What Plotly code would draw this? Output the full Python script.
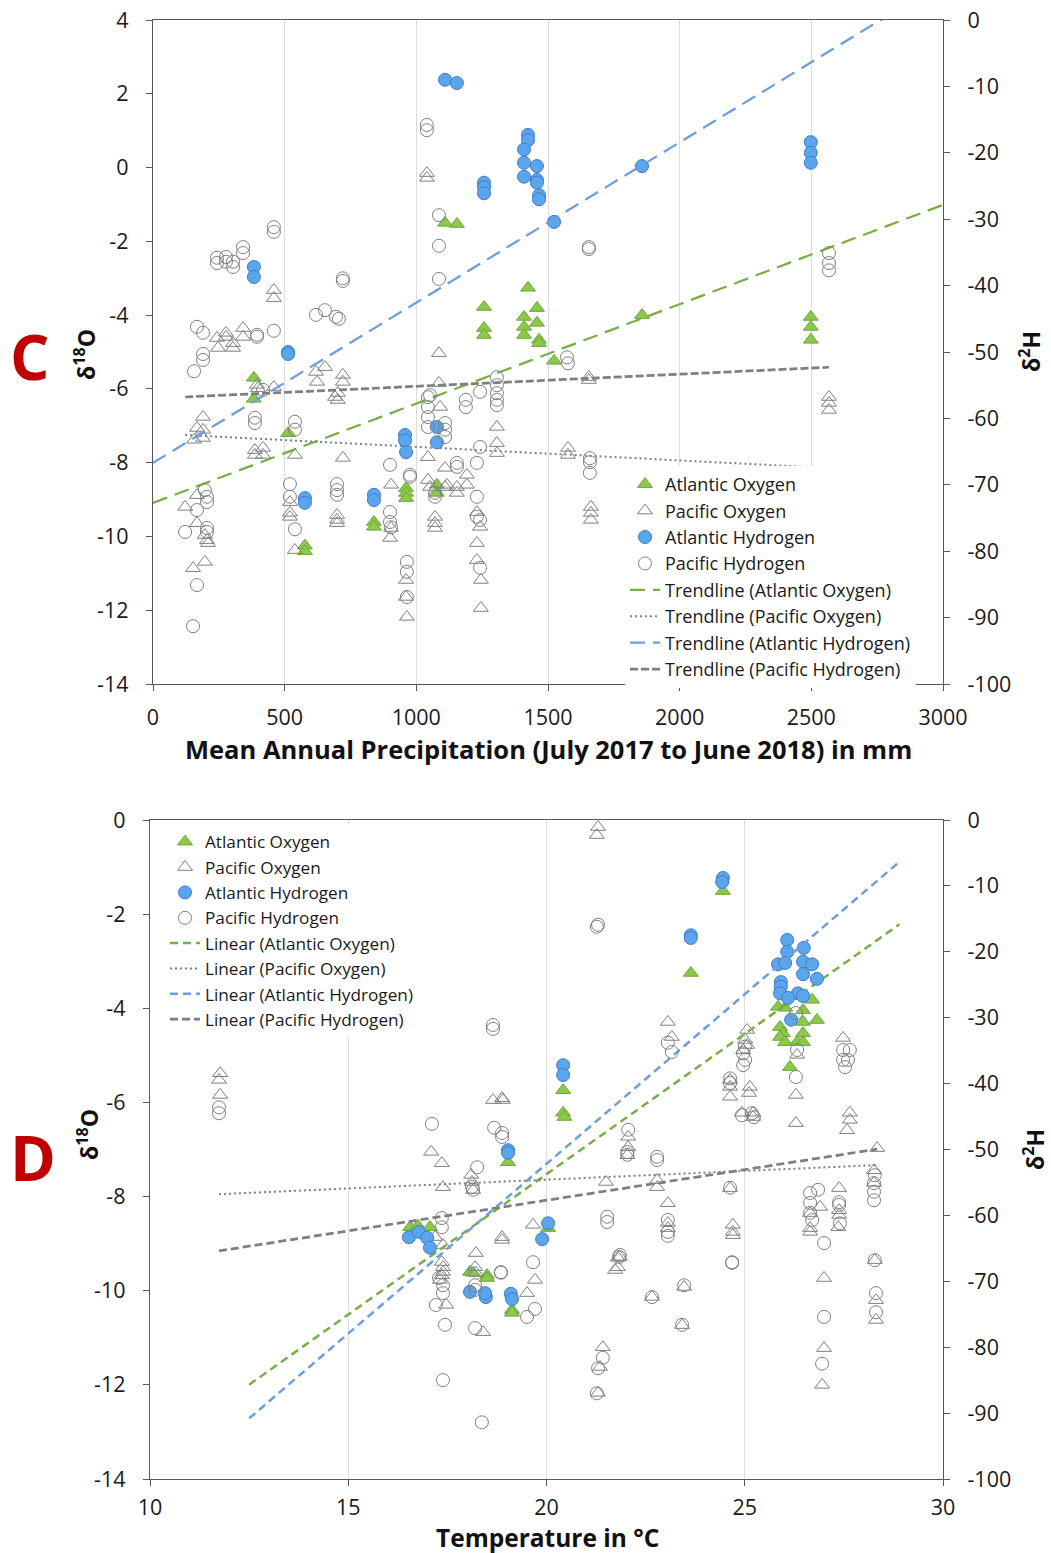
import plotly.graph_objects as go

# ---------------- Panel C: precipitation ----------------
c_atl_o_x = [383, 383, 513, 577, 577, 839, 839, 961, 961, 961, 1078, 1078, 1109, 1154, 1257, 1257, 1257,
             1424, 1409, 1409, 1409, 1458, 1458, 1466, 1466, 1523, 1857, 2498, 2498, 2498]
c_atl_o_y = [-5.70, -6.27, -7.20, -10.25, -10.40, -9.61, -9.74, -8.69, -8.82, -8.96, -8.60, -8.82, -1.50, -1.53,
             -3.78, -4.35, -4.54, -3.26, -4.05, -4.32, -4.54, -3.81, -4.21, -4.67, -4.76, -5.24, -4.00, -4.05,
             -4.32, -4.67]

c_pac_o_x = [459, 459, 243, 277, 277, 304, 304, 342, 342, 247, 395, 399, 459, 619, 653, 623, 721, 721, 702, 691,
             702, 190, 167, 190, 156, 190, 387, 418, 418, 387, 539, 721, 1086, 1086, 1090, 1044, 1044, 1052, 1109,
             1109, 904, 904, 900, 122, 167, 167, 197, 209, 205, 152, 197, 520, 520, 520, 539, 699, 699, 699, 961,
             961, 964, 1071, 1071, 1071, 1154, 1154, 1192, 1192, 1116, 1230, 1242, 1230, 1230, 1245, 1245, 1306,
             1306, 1306, 1576, 1576, 1655, 1655, 1663, 1663, 1663, 2567, 2567, 2567, 1040, 1040]
c_pac_o_y = [-3.32, -3.54, -4.62, -4.48, -4.59, -4.76, -4.89, -4.35, -4.59, -4.89, -5.89, -5.98, -5.95, -5.54,
             -5.41, -5.81, -5.62, -5.81, -6.11, -6.22, -6.30, -6.76, -7.06, -7.11, -7.38, -7.33, -7.66, -7.60,
             -7.79, -7.79, -7.79, -7.87, -5.03, -5.84, -6.49, -7.85, -8.47, -8.66, -8.14, -8.66, -8.60, -9.77,
             -10.04, -9.20, -8.88, -9.64, -9.96, -10.18, -10.10, -10.86, -10.69, -9.07, -9.36, -9.47, -10.37,
             -9.42, -9.55, -9.64, -11.18, -11.64, -12.18, -9.47, -9.64, -9.77, -8.66, -8.82, -8.33, -8.60, -8.60,
             -9.34, -9.74, -10.18, -10.64, -11.18, -11.94, -7.03, -7.47, -7.74, -7.60, -7.79, -5.68, -5.76, -9.20,
             -9.36, -9.55, -6.22, -6.38, -6.57, -0.15, -0.28]

c_atl_h_x = [383, 383, 513, 513, 957, 957, 961, 1078, 1078, 577, 577, 839, 839, 1109, 1154, 1257, 1257, 1257,
             1424, 1424, 1409, 1409, 1458, 1409, 1458, 1458, 1466, 1466, 1523, 1857, 2498, 2498, 2498]
c_atl_h_y = [-37.2, -38.7, -50.0, -50.3, -62.5, -63.3, -65.1, -61.3, -63.6, -72.0, -72.7, -71.5, -72.3, -9.0,
             -9.5, -24.5, -25.2, -26.1, -17.3, -18.1, -19.5, -21.5, -22.0, -23.6, -24.1, -24.5, -26.4, -27.0,
             -30.4, -22.0, -18.4, -20.0, -21.5]

c_pac_h_x = [459, 459, 342, 342, 243, 243, 277, 277, 304, 304, 721, 721, 619, 653, 695, 706, 167, 190, 190, 190,
             156, 395, 395, 459, 418, 387, 387, 539, 539, 1086, 1086, 1086, 1044, 1044, 1044, 1044, 1040, 1040,
             1655, 1655, 1572, 1576, 1109, 1109, 1109, 1052, 1188, 1188, 1242, 1306, 1306, 1306, 1306, 1306,
             1242, 1154, 1154, 1230, 976, 976, 900, 1071, 1071, 1230, 1230, 1242, 900, 900, 904, 964, 964, 964,
             1242, 1659, 1659, 1659, 122, 167, 197, 205, 205, 205, 205, 167, 152, 520, 520, 539, 699, 699, 699,
             2567, 2567, 2567]
c_pac_h_y = [-31.2, -31.9, -34.2, -35.1, -35.8, -36.6, -35.7, -36.4, -36.4, -37.2, -38.9, -39.3, -44.4, -43.7,
             -44.7, -45.0, -46.2, -47.1, -50.3, -51.2, -52.9, -47.4, -47.7, -46.8, -55.7, -59.9, -60.7, -60.5,
             -61.7, -29.4, -34.0, -39.0, -56.8, -58.3, -59.8, -61.3, -15.8, -16.6, -34.2, -34.5, -50.8, -51.7,
             -60.7, -61.7, -62.8, -56.5, -57.2, -58.3, -56.0, -53.8, -55.0, -56.2, -57.2, -58.0, -64.3, -66.7,
             -67.3, -66.7, -68.5, -68.8, -67.0, -71.2, -71.8, -71.8, -74.8, -75.3, -74.1, -75.6, -76.4, -81.6,
             -83.1, -86.9, -82.5, -66.0, -66.6, -68.2, -77.1, -73.8, -70.8, -71.8, -72.6, -76.5, -77.1, -85.1,
             -91.3, -69.9, -71.8, -76.7, -69.9, -70.8, -71.5, -35.1, -36.6, -37.7]

# linear trend coefficients (slope, intercept) and forecast span of the Atlantic fits
c_trend_atl_o = (0.002693, -9.09)
c_trend_pac_o = (-0.000367, -7.205)
c_trend_atl_h = (0.02414, -66.7)
c_trend_pac_h = (0.001832, -57.0)
c_atl_span = (0, 3000)

# ---------------- Panel D: temperature ----------------
d_atl_o_x = [16.56, 16.76, 17.06, 18.07, 18.15, 18.50, 18.50, 19.03, 19.13, 19.13, 20.42, 20.42, 20.45, 20.04,
             23.64, 24.45, 25.84, 26.02, 26.70, 26.47, 26.82, 26.47, 25.89, 25.96, 26.47, 25.89, 26.02, 26.32,
             26.47, 26.14]
d_atl_o_y = [-8.65, -8.62, -8.65, -9.60, -9.62, -9.67, -9.73, -7.27, -10.41, -10.47, -5.74, -6.22, -6.31, -8.67,
             -3.25, -1.51, -3.97, -3.99, -3.82, -4.04, -4.25, -4.29, -4.40, -4.53, -4.53, -4.61, -4.72, -4.72,
             -4.72, -5.25]

d_pac_o_x = [11.77, 11.74, 11.77, 18.65, 18.88, 18.90, 17.09, 17.36, 17.39, 18.10, 18.12, 18.15, 17.19, 17.39,
             17.36, 17.39, 17.39, 17.36, 17.31, 17.47, 18.88, 18.88, 18.22, 18.20, 18.22, 18.40, 19.66, 19.71,
             19.51, 21.42, 21.30, 21.35, 21.50, 21.80, 21.80, 22.06, 22.06, 22.04, 21.30, 21.27, 23.06, 23.16,
             25.06, 25.01, 25.06, 24.96, 24.63, 24.63, 24.63, 25.13, 25.11, 24.93, 25.21, 25.21, 27.48, 26.32,
             26.29, 26.29, 27.65, 27.65, 27.58, 28.34, 22.79, 22.79, 23.06, 23.06, 23.06, 24.63, 24.70, 24.70,
             24.70, 21.85, 21.73, 22.66, 23.47, 23.42, 26.65, 26.65, 26.65, 26.90, 27.38, 27.38, 27.38, 27.36,
             27.00, 27.00, 26.95, 28.26, 28.26, 28.28, 28.31, 28.31]
d_pac_o_y = [-5.38, -5.52, -5.84, -5.95, -5.91, -5.95, -7.05, -7.29, -7.80, -7.54, -7.69, -7.86, -8.86, -9.03,
             -9.39, -9.50, -9.60, -9.67, -9.77, -10.30, -8.86, -8.92, -9.20, -9.50, -9.62, -10.88, -8.60, -9.77,
             -10.05, -11.20, -12.17, -11.62, -7.69, -9.30, -9.50, -6.73, -6.95, -7.12, -0.15, -0.32, -4.29, -4.61,
             -4.46, -4.67, -4.78, -4.89, -5.52, -5.67, -5.88, -5.67, -5.80, -6.22, -6.22, -6.31, -4.63, -4.99,
             -5.84, -6.44, -6.22, -6.37, -6.59, -6.97, -7.65, -7.80, -8.14, -8.56, -8.67, -7.82, -8.60, -8.75,
             -8.82, -9.28, -9.56, -10.13, -9.92, -10.73, -8.35, -8.67, -8.75, -8.22, -7.82, -8.29, -8.39, -8.65,
             -9.73, -11.22, -12.00, -7.44, -7.71, -9.35, -10.20, -10.62]

d_atl_h_x = [16.53, 16.78, 16.99, 17.06, 18.07, 18.47, 18.45, 19.03, 19.03, 19.10, 19.13, 20.42, 20.42, 20.04,
             19.89, 23.64, 23.64, 24.45, 24.43, 26.07, 26.49, 26.07, 25.84, 26.02, 26.47, 26.70, 26.47, 26.82,
             25.91, 25.91, 25.89, 26.34, 26.47, 26.09, 26.17]
d_atl_h_y = [-63.3, -62.5, -63.4, -64.9, -71.6, -72.4, -71.8, -50.1, -50.5, -71.9, -72.7, -37.2, -38.7, -61.2,
             -63.6, -17.5, -17.9, -8.8, -9.4, -18.2, -19.4, -20.0, -21.9, -21.7, -21.5, -21.9, -23.4, -24.1,
             -24.6, -25.3, -26.3, -26.3, -26.7, -27.0, -30.3]

d_pac_h_x = [11.74, 11.74, 18.65, 18.65, 17.11, 18.68, 18.88, 18.88, 18.25, 18.12, 18.15, 17.36, 17.36, 17.29,
             17.39, 17.39, 17.21, 17.44, 17.39, 18.37, 18.20, 18.20, 18.20, 18.85, 18.85, 19.66, 19.71, 19.51,
             21.53, 21.53, 21.83, 22.06, 22.04, 22.04, 21.42, 21.30, 21.27, 21.27, 21.30, 23.06, 23.16, 25.00,
             24.96, 25.01, 24.96, 24.63, 24.63, 25.18, 25.23, 24.93, 27.48, 27.65, 27.48, 27.60, 27.53, 26.32,
             26.29, 26.29, 22.79, 22.79, 24.63, 24.68, 24.68, 23.06, 23.06, 23.06, 21.85, 22.66, 23.47, 23.42,
             26.65, 26.85, 26.65, 26.65, 26.70, 27.38, 27.38, 27.40, 27.00, 27.00, 26.95, 28.28, 28.26, 28.26,
             28.26, 28.28, 28.31, 28.31]
d_pac_h_y = [-43.6, -44.5, -31.1, -31.7, -46.1, -46.7, -47.5, -48.1, -52.7, -55.7, -56.1, -60.4, -61.8, -69.5,
             -70.6, -71.8, -73.6, -76.6, -85.0, -91.4, -70.6, -71.3, -77.1, -68.6, -68.7, -67.1, -74.2, -75.4,
             -60.2, -61.0, -66.3, -47.0, -50.4, -50.8, -81.6, -83.2, -87.0, -16.2, -15.9, -33.8, -35.2, -34.4,
             -35.4, -36.4, -37.2, -39.2, -39.9, -44.5, -45.1, -44.8, -34.9, -34.9, -36.4, -36.4, -37.5, -34.9,
             -39.0, -29.3, -51.1, -51.6, -55.8, -67.1, -67.2, -60.7, -62.5, -63.1, -66.0, -72.4, -70.6, -76.6,
             -56.6, -56.1, -58.1, -59.6, -60.7, -58.0, -58.4, -61.2, -64.2, -75.4, -82.5, -53.9, -55.1, -56.4,
             -57.7, -66.8, -71.8, -74.7]

d_trend_atl_o = (0.5963, -19.45)
d_trend_pac_o = (0.0373, -8.387)
d_trend_atl_h = (5.15, -155.18)
d_trend_pac_h = (0.93, -76.3)
d_atl_span = (12.5, 28.9)

# ---------------- styling ----------------
GREEN_FILL, GREEN_EDGE, GREEN_LINE = "#8DC84B", "#6BA63A", "#78AF44"
BLUE_FILL, BLUE_EDGE, BLUE_LINE = "#5AA5EC", "#3F7CCB", "#6C9EDD"
GRAY = "#7F7F7F"
FONT = "Open Sans"
W, H = 1051, 1553


def markers(name, x, y, kind, xa, ya, legend):
    if kind == "atl_o":
        m = dict(symbol="triangle-up", size=13, color=GREEN_FILL, line=dict(color=GREEN_EDGE, width=1))
    elif kind == "atl_h":
        m = dict(symbol="circle", size=13, color=BLUE_FILL, line=dict(color=BLUE_EDGE, width=1))
    elif kind == "pac_o":
        m = dict(symbol="triangle-up-open", size=13, color=GRAY, line=dict(color=GRAY, width=1))
    else:
        m = dict(symbol="circle-open", size=13, color=GRAY, line=dict(color=GRAY, width=1))
    return go.Scatter(x=x, y=y, mode="markers", name=name, marker=m, xaxis=xa, yaxis=ya,
                      legend=legend, cliponaxis=False)


def trend(name, coef, span, color, dash, width, xa, ya, legend):
    slope, icpt = coef
    xs = [span[0], span[1]]
    ys = [icpt + slope * v for v in xs]
    return go.Scatter(x=xs, y=ys, mode="lines", name=name, xaxis=xa, yaxis=ya, legend=legend,
                      line=dict(color=color, dash=dash, width=width))


def tick_set(lo, hi, step):
    # plain hyphen-minus labels
    vals = list(range(lo, hi + 1, step))
    return dict(tickvals=vals, ticktext=[str(v) for v in vals])


fig = go.Figure()

# Panel C traces
fig.add_trace(markers("Atlantic Oxygen", c_atl_o_x, c_atl_o_y, "atl_o", "x", "y", "legend"))
fig.add_trace(markers("Pacific Oxygen", c_pac_o_x, c_pac_o_y, "pac_o", "x", "y", "legend"))
fig.add_trace(markers("Atlantic Hydrogen", c_atl_h_x, c_atl_h_y, "atl_h", "x", "y2", "legend"))
fig.add_trace(markers("Pacific Hydrogen", c_pac_h_x, c_pac_h_y, "pac_h", "x", "y2", "legend"))
c_pac_span = (min(c_pac_o_x + c_pac_h_x), max(c_pac_o_x + c_pac_h_x))
fig.add_trace(trend("Trendline (Atlantic Oxygen)", c_trend_atl_o, c_atl_span, GREEN_LINE, "15px,8px", 2.25,
                    "x", "y", "legend"))
fig.add_trace(trend("Trendline (Pacific Oxygen)", c_trend_pac_o, c_pac_span, GRAY, "2px,3px", 2,
                    "x", "y", "legend"))
fig.add_trace(trend("Trendline (Atlantic Hydrogen)", c_trend_atl_h, c_atl_span, BLUE_LINE, "15px,8px", 2.25,
                    "x", "y2", "legend"))
fig.add_trace(trend("Trendline (Pacific Hydrogen)", c_trend_pac_h, c_pac_span, GRAY, "8px,3px", 2.75,
                    "x", "y2", "legend"))

# Panel D traces
fig.add_trace(markers("Atlantic Oxygen", d_atl_o_x, d_atl_o_y, "atl_o", "x2", "y3", "legend2"))
fig.add_trace(markers("Pacific Oxygen", d_pac_o_x, d_pac_o_y, "pac_o", "x2", "y3", "legend2"))
fig.add_trace(markers("Atlantic Hydrogen", d_atl_h_x, d_atl_h_y, "atl_h", "x2", "y4", "legend2"))
fig.add_trace(markers("Pacific Hydrogen", d_pac_h_x, d_pac_h_y, "pac_h", "x2", "y4", "legend2"))
d_pac_span = (min(d_pac_o_x + d_pac_h_x), max(d_pac_o_x + d_pac_h_x))
fig.add_trace(trend("Linear (Atlantic Oxygen)", d_trend_atl_o, d_atl_span, GREEN_LINE, "8px,5px", 2.5,
                    "x2", "y3", "legend2"))
fig.add_trace(trend("Linear (Pacific Oxygen)", d_trend_pac_o, d_pac_span, GRAY, "2px,3px", 2,
                    "x2", "y3", "legend2"))
fig.add_trace(trend("Linear (Atlantic Hydrogen)", d_trend_atl_h, d_atl_span, BLUE_LINE, "8px,5px", 2.5,
                    "x2", "y4", "legend2"))
fig.add_trace(trend("Linear (Pacific Hydrogen)", d_trend_pac_h, d_pac_span, GRAY, "8px,4px", 2.75,
                    "x2", "y4", "legend2"))

tick_font = dict(family=FONT, size=21.5, color="#1a1a1a")
axis_common = dict(showline=True, linecolor="#595959", linewidth=1.25, ticks="outside", ticklen=6,
                   tickcolor="#595959", tickfont=tick_font, zeroline=False, automargin=False)


def px_x(p):
    return p / W


def px_y(p):
    return 1 - p / H


fig.update_layout(
    template="none",
    width=W, height=H, autosize=False,
    margin=dict(l=0, r=0, t=0, b=0),
    paper_bgcolor="white", plot_bgcolor="white",
    font=dict(family=FONT, color="#1a1a1a"),
    xaxis=dict(domain=[px_x(153), px_x(943)], range=[0, 3000], anchor="y", ticklabelstandoff=8,
               showgrid=True, gridcolor="#DCDCDC", gridwidth=1, mirror=True,
               **tick_set(0, 3000, 500), **axis_common),
    yaxis=dict(domain=[px_y(684), px_y(20)], range=[-14, 4], anchor="x", ticklabelstandoff=13,
               showgrid=False, **tick_set(-14, 4, 2), **axis_common),
    yaxis2=dict(range=[-100, 0], overlaying="y", side="right", anchor="x", ticklabelstandoff=13,
                showgrid=False, **tick_set(-100, 0, 10), **axis_common),
    xaxis2=dict(domain=[px_x(150), px_x(943)], range=[10, 30], anchor="y3", ticklabelstandoff=3,
                showgrid=True, gridcolor="#DCDCDC", gridwidth=1, mirror=True,
                **tick_set(10, 30, 5), **axis_common),
    yaxis3=dict(domain=[px_y(1479), px_y(820)], range=[-14, 0], anchor="x2", ticklabelstandoff=13,
                showgrid=False, **tick_set(-14, 0, 2), **axis_common),
    yaxis4=dict(range=[-100, 0], overlaying="y3", side="right", anchor="x2", ticklabelstandoff=13,
                showgrid=False, **tick_set(-100, 0, 10), **axis_common),
    legend=dict(x=px_x(625), y=px_y(466), xanchor="left", yanchor="top", bgcolor="white",
                font=dict(family=FONT, size=18, color="#1a1a1a"), itemwidth=30, tracegroupgap=0),
    legend2=dict(x=px_x(165), y=px_y(824), xanchor="left", yanchor="top", bgcolor="white",
                 font=dict(family=FONT, size=17.2, color="#1a1a1a"), itemwidth=30, tracegroupgap=0),
    showlegend=True,
)

title_font = dict(family=FONT, size=25.5, color="#111111")
ytitle_font = dict(family=FONT, size=23, color="#111111")
notes = [
    dict(text="<b>Mean Annual Precipitation (July 2017 to June 2018) in mm</b>", x=px_x(548), y=px_y(749),
         font=title_font, textangle=0),
    dict(text="<b>Temperature in °C</b>", x=px_x(547), y=px_y(1537), font=dict(family=FONT, size=24.5,
         color="#111111"), textangle=0),
    dict(text="<b>δ<sup>18</sup>O</b>", x=px_x(85), y=px_y(355), font=ytitle_font, textangle=-90),
    dict(text="<b>δ<sup>2</sup>H</b>", x=px_x(1030), y=px_y(352), font=ytitle_font, textangle=-90),
    dict(text="<b>δ<sup>18</sup>O</b>", x=px_x(88), y=px_y(1135), font=ytitle_font, textangle=-90),
    dict(text="<b>δ<sup>2</sup>H</b>", x=px_x(1034), y=px_y(1150), font=ytitle_font, textangle=-90),
    dict(text="<b>C</b>", x=px_x(30), y=px_y(356), font=dict(family=FONT, size=62, color="#C00000"), textangle=0),
    dict(text="<b>D</b>", x=px_x(33), y=px_y(1157), font=dict(family=FONT, size=62, color="#C00000"), textangle=0),
]
for n in notes:
    fig.add_annotation(xref="paper", yref="paper", showarrow=False, xanchor="center", yanchor="middle", **n)

fig.write_html("out.html")
